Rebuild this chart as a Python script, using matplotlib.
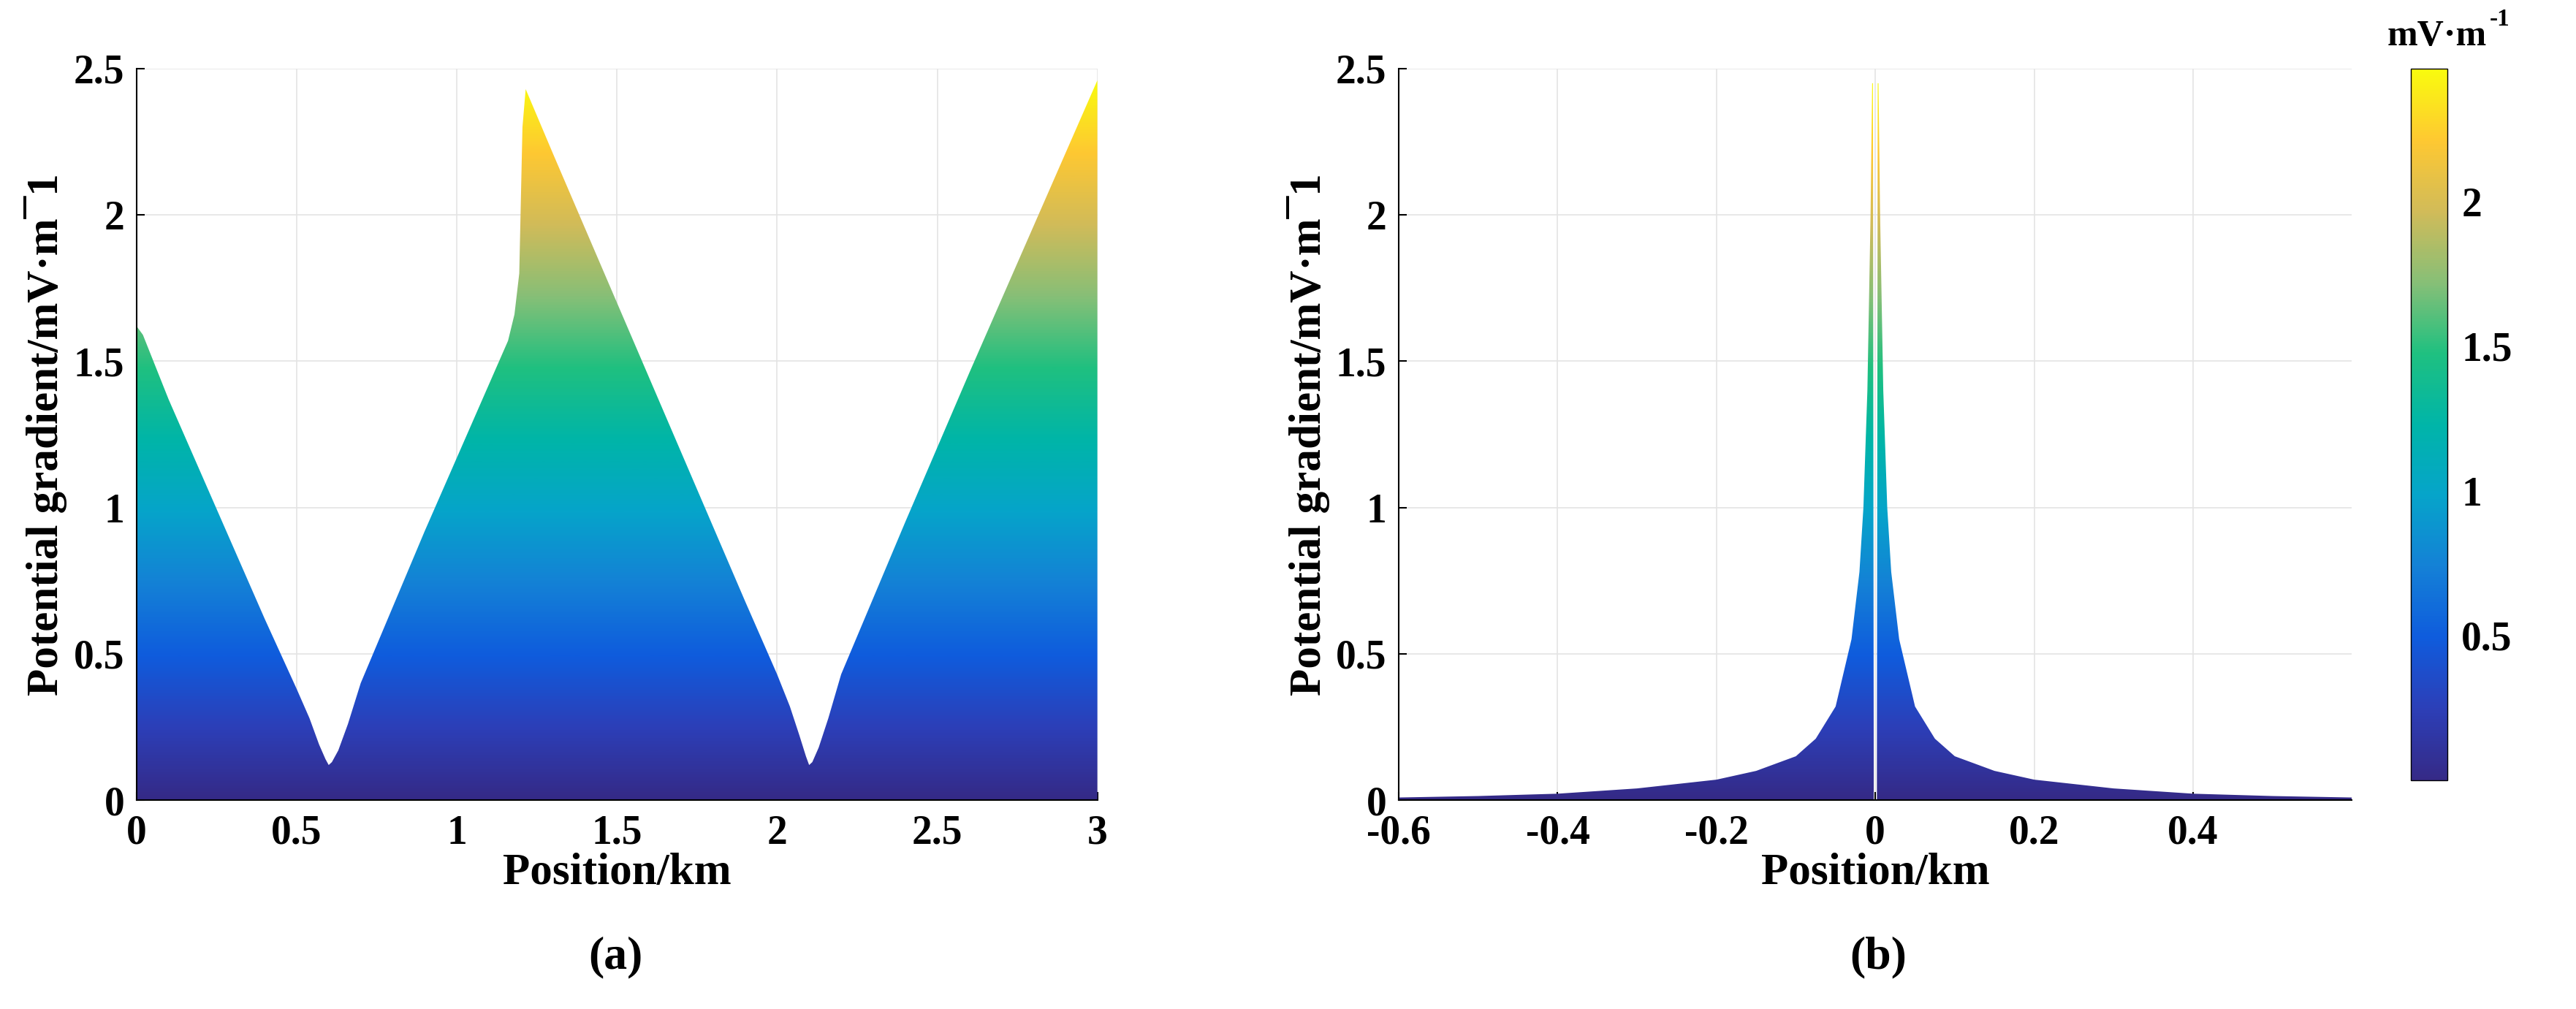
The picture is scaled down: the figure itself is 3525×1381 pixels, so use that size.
import numpy as np
import matplotlib.pyplot as plt
from matplotlib.colors import LinearSegmentedColormap
from matplotlib.patches import Polygon

# panel (a) profile
pos_a = [0.0, 0.02, 0.1, 0.2, 0.3, 0.4, 0.5, 0.54, 0.57, 0.59, 0.6, 0.61, 0.63, 0.66, 0.7, 0.8, 0.9, 1.0, 1.1, 1.16,
         1.18, 1.195, 1.205, 1.215, 1.3, 1.5, 1.7, 1.9, 2.0, 2.04, 2.07, 2.09, 2.1, 2.11, 2.13, 2.16, 2.2, 2.4, 2.6, 2.8, 3.0]
grad_a = [1.62, 1.59, 1.37, 1.12, 0.87, 0.62, 0.38, 0.28, 0.19, 0.14, 0.12, 0.13, 0.17, 0.26, 0.40, 0.66, 0.92, 1.17,
          1.42, 1.57, 1.66, 1.80, 2.30, 2.43, 2.21, 1.70, 1.19, 0.68, 0.43, 0.32, 0.22, 0.15, 0.12, 0.13, 0.18, 0.28,
          0.43, 0.95, 1.46, 1.96, 2.46]

# panel (b) profile (right half, mirrored)
pos_b = [0.004, 0.006, 0.01, 0.015, 0.02, 0.03, 0.05, 0.075, 0.1, 0.15, 0.2, 0.3, 0.4, 0.5, 0.6]
grad_b = [2.45, 2.0, 1.4, 1.0, 0.78, 0.55, 0.32, 0.21, 0.15, 0.10, 0.07, 0.04, 0.022, 0.014, 0.009]

vmax = 2.46
parula = LinearSegmentedColormap.from_list("parula", [
    "#352a87", "#2c3fb8", "#0f5cdd", "#1481d6", "#06a4ca", "#00b5a8",
    "#1fc080", "#87bf77", "#d1bb59", "#fec832", "#f9fb0e"])

plt.rcParams['font.family'] = ['Liberation Serif', 'DejaVu Serif']
plt.rcParams['font.weight'] = 'bold'
fig = plt.figure(figsize=(35.25, 13.81), dpi=100)
ax_a = fig.add_axes([0.053, 0.207, 0.373, 0.725])
ax_b = fig.add_axes([0.543, 0.207, 0.370, 0.725])
cax = fig.add_axes([0.936, 0.227, 0.014, 0.705])

grad_img = np.linspace(0, vmax, 512).reshape(-1, 1)


def gradient_fill(ax, x, y, xlim):
    verts = list(zip(x, y)) + [(x[-1], 0), (x[0], 0)]
    poly = Polygon(verts, closed=True, facecolor='none', edgecolor='none')
    ax.add_patch(poly)
    im = ax.imshow(grad_img, cmap=parula, vmin=0, vmax=vmax, origin='lower', aspect='auto',
                   extent=[xlim[0], xlim[1], 0, vmax], zorder=2)
    im.set_clip_path(poly)
    return im


gradient_fill(ax_a, pos_a, grad_a, (0, 3))
xb = np.array(pos_b)
yb = np.array(grad_b)
gradient_fill(ax_b, list(-xb[::-1]) + [-0.003, -0.002], list(yb[::-1]) + [2.45, 0.1], (-0.6, 0.6))
im = gradient_fill(ax_b, [0.002, 0.003] + list(xb), [0.1, 2.45] + list(yb), (-0.6, 0.6))

for ax, xlim, xticks in [(ax_a, (0, 3), np.arange(0, 3.01, 0.5)),
                         (ax_b, (-0.6, 0.6), [-0.6, -0.4, -0.2, 0, 0.2, 0.4])]:
    ax.set_xlim(*xlim)
    ax.set_ylim(0, 2.5)
    ax.set_xticks(xticks)
    ax.set_xticklabels(['%g' % t for t in xticks])
    ax.set_yticks([0, 0.5, 1, 1.5, 2, 2.5])
    ax.set_yticklabels(['0', '0.5', '1', '1.5', '2', '2.5'])
    ax.grid(True, color='#e4e4e4', linewidth=1.2, zorder=0)
    ax.set_axisbelow(True)
    ax.spines['top'].set_visible(False)
    ax.spines['right'].set_visible(False)
    ax.tick_params(direction='in', labelsize=40, length=8, width=1.5)
    ax.tick_params(axis='x', pad=14)
    ax.tick_params(axis='y', pad=12)
    for s in ('left', 'bottom'):
        ax.spines[s].set_linewidth(1.5)
    ax.set_xlabel('Position/km', fontsize=44, fontweight='bold', labelpad=0)
    ax.set_ylabel('Potential gradient/mV·m¯1', fontsize=44, fontweight='bold', labelpad=6)

fig.text(0.239, 0.04, '(a)', ha='center', fontsize=46, fontweight='bold')
fig.text(0.729, 0.04, '(b)', ha='center', fontsize=46, fontweight='bold')

cb = fig.colorbar(im, cax=cax)
cb.set_ticks([0.5, 1, 1.5, 2])
cb.set_ticklabels(['0.5', '1', '1.5', '2'])
cb.ax.tick_params(labelsize=40, direction='in', length=0, pad=14)
cb.outline.set_linewidth(1.0)
fig.text(0.946, 0.955, 'mV·m', ha='center', fontsize=36, fontweight='bold')
fig.text(0.9665, 0.975, '-1', ha='left', fontsize=24, fontweight='bold')

fig.savefig('out.png', dpi=100, facecolor='white')
